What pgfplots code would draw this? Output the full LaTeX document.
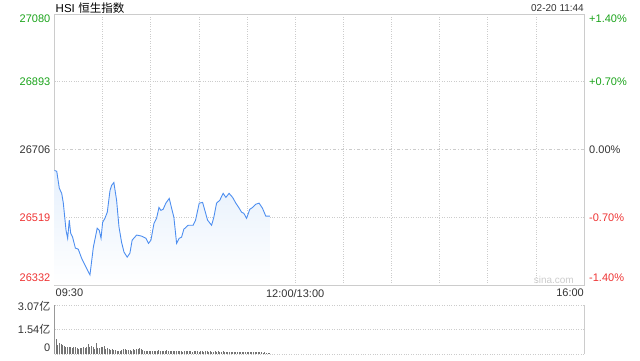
\documentclass[border=0pt]{standalone}
\usepackage{pgfplots}
\pgfplotsset{compat=1.18}
\usepackage{fontspec}
\setmainfont{Liberation Sans}
\newfontfamily\cjk{Noto Sans CJK SC}
\definecolor{upg}{HTML}{1AA31A}
\definecolor{dnr}{HTML}{EE3333}
\definecolor{lineb}{HTML}{4D8EF0}
\definecolor{fillb}{HTML}{E6F0FC}
\definecolor{bord}{HTML}{CCCCCC}
\definecolor{txt}{HTML}{333333}
\begin{document}
\begin{tikzpicture}[x=1bp,y=1bp]
\path[use as bounding box] (0,0) rectangle (640,-360);
\fontsize{11bp}{13bp}\selectfont
% main price chart
\begin{axis}[
  at={(54.5bp,-14bp)}, anchor=north west,
  width=529.5bp, height=271bp, scale only axis,
  xmin=0, xmax=330, ymin=26332.1, ymax=27079.9,
  clip=false,
  scaled y ticks=false, scaled x ticks=false,
  xtick={0,30,...,330}, xticklabels={},
  ytick={26519,26893}, yticklabels={},
  extra y ticks={26706}, extra y tick labels={},
  extra y tick style={grid style={color=bord, dash pattern=on 3pt off 2pt on 1pt off 2pt, line width=0.6pt}},
  major tick length=0pt,
  grid=major,
  grid style={color=bord, dotted, line width=0.6pt},
  axis line style={color=bord, line width=0.8pt},
]
\addplot[draw=none, top color=fillb, bottom color=white] coordinates {
(0,26648) (1.4,26646) (3.0,26599) (4.5,26585) (5.5,26558) (7.2,26483) (8.2,26461) (9.2,26511) (10.1,26475) (11.3,26464)
(13.0,26434) (14.8,26431) (16.9,26406) (19.0,26387) (22.1,26360) (24.2,26436) (26.6,26489) (27.9,26483) (29.0,26461) (30.0,26505)
(31.4,26516) (32.9,26533) (34.6,26593) (35.6,26607) (37.0,26615) (38.7,26566) (40.2,26492) (41.8,26450) (43.3,26423) (45.3,26409)
(47.0,26420) (48.4,26456) (51.2,26470) (54.3,26467) (57.0,26461) (58.6,26447) (60.1,26456) (62.0,26502) (63.6,26516) (65.1,26546)
(66.3,26538) (67.7,26541) (69.4,26558) (71.5,26571) (73.0,26544) (74.4,26519) (76.1,26447) (77.7,26461) (79.2,26464) (80.6,26486)
(83.3,26497) (86.4,26497) (87.9,26511) (90.2,26558) (92.3,26560) (93.7,26538) (95.4,26511) (97.9,26497) (99.3,26519) (101.0,26558)
(103.0,26566) (105.1,26585) (106.8,26574) (108.8,26585) (111.0,26574) (113.0,26558) (115.1,26544) (116.6,26533) (118.0,26530) (119.7,26516)
(121.7,26541) (123.4,26546) (125.5,26555) (127.5,26558) (129.6,26544) (131.7,26522) (134.2,26522)
} \closedcycle;
\addplot[color=lineb, line width=0.9pt, no marks] coordinates {
(0,26648) (1.4,26646) (3.0,26599) (4.5,26585) (5.5,26558) (7.2,26483) (8.2,26461) (9.2,26511) (10.1,26475) (11.3,26464)
(13.0,26434) (14.8,26431) (16.9,26406) (19.0,26387) (22.1,26360) (24.2,26436) (26.6,26489) (27.9,26483) (29.0,26461) (30.0,26505)
(31.4,26516) (32.9,26533) (34.6,26593) (35.6,26607) (37.0,26615) (38.7,26566) (40.2,26492) (41.8,26450) (43.3,26423) (45.3,26409)
(47.0,26420) (48.4,26456) (51.2,26470) (54.3,26467) (57.0,26461) (58.6,26447) (60.1,26456) (62.0,26502) (63.6,26516) (65.1,26546)
(66.3,26538) (67.7,26541) (69.4,26558) (71.5,26571) (73.0,26544) (74.4,26519) (76.1,26447) (77.7,26461) (79.2,26464) (80.6,26486)
(83.3,26497) (86.4,26497) (87.9,26511) (90.2,26558) (92.3,26560) (93.7,26538) (95.4,26511) (97.9,26497) (99.3,26519) (101.0,26558)
(103.0,26566) (105.1,26585) (106.8,26574) (108.8,26585) (111.0,26574) (113.0,26558) (115.1,26544) (116.6,26533) (118.0,26530) (119.7,26516)
(121.7,26541) (123.4,26546) (125.5,26555) (127.5,26558) (129.6,26544) (131.7,26522) (134.2,26522)
};
% left labels
\node[anchor=east, text=upg, inner sep=0pt] at (rel axis cs:0,1) [xshift=-4bp, yshift=-5bp] {27080};
\node[anchor=east, text=upg, inner sep=0pt] at (axis cs:0,26893) [xshift=-4bp] {26893};
\node[anchor=east, text=txt, inner sep=0pt] at (axis cs:0,26706) [xshift=-4bp] {26706};
\node[anchor=east, text=dnr, inner sep=0pt] at (axis cs:0,26519) [xshift=-4bp] {26519};
\node[anchor=east, text=dnr, inner sep=0pt] at (rel axis cs:0,0) [xshift=-4bp, yshift=7bp] {26332};
% right labels
\node[anchor=west, text=upg, inner sep=0pt] at (rel axis cs:1,1) [xshift=5bp, yshift=-5bp] {+1.40\%};
\node[anchor=west, text=upg, inner sep=0pt] at (axis cs:330,26893) [xshift=5bp] {+0.70\%};
\node[anchor=west, text=txt, inner sep=0pt] at (axis cs:330,26706) [xshift=5bp] {0.00\%};
\node[anchor=west, text=dnr, inner sep=0pt] at (axis cs:330,26519) [xshift=5bp] {-0.70\%};
\node[anchor=west, text=dnr, inner sep=0pt] at (rel axis cs:1,0) [xshift=5bp, yshift=7bp] {-1.40\%};
% x labels
\node[anchor=north west, text=txt, inner sep=0pt] at (rel axis cs:0,0) [yshift=-4bp, xshift=1bp] {09:30};
\node[anchor=north, text=txt, inner sep=0pt] at (axis cs:150,26332.1) [yshift=-4bp] {12:00/13:00};
\node[anchor=north east, text=txt, inner sep=0pt] at (rel axis cs:1,0) [yshift=-4bp] {16:00};
% titles
\node[anchor=base west, text=black, inner sep=0pt] (ttl) at (rel axis cs:0,1) [yshift=1.5bp, xshift=1bp] {\fontsize{11.5bp}{13bp}\selectfont HSI};
\node[anchor=base west, text=black, inner sep=0pt] at (ttl.base east) [xshift=3bp] {\fontsize{11.5bp}{13bp}\selectfont\cjk 恒生指数};
\node[anchor=base east, text=txt, inner sep=0pt, font=\fontsize{10bp}{12bp}\selectfont] at (rel axis cs:1,1) [yshift=2.5bp] {02-20 11:44};
\node[anchor=south east, text=bord, inner sep=0pt, font=\fontsize{10bp}{12bp}\selectfont] at (rel axis cs:1,0) [xshift=-10bp, yshift=1bp] {sina.com};
\end{axis}
% volume chart
\begin{axis}[
  at={(54.5bp,-305bp)}, anchor=north west,
  width=529.5bp, height=49bp, scale only axis,
  xmin=0, xmax=330, ymin=0, ymax=3.07,
  clip=false,
  scaled y ticks=false,
  xtick=\empty,
  ytick={0,1.54,3.07}, yticklabels={},
  major tick length=0pt,
  ymajorgrids,
  grid style={color=bord, dotted, line width=0.8pt},
  axis line style={draw=none},
]
\draw[color=gray!80, line width=0.8pt] (rel axis cs:0,0) -- (rel axis cs:0,1);
\draw[color=bord, line width=0.8pt] (rel axis cs:1,0) -- (rel axis cs:1,1);
\addplot[ycomb, no marks, color=gray!90!black, line width=0.8pt] coordinates {
(1,0.92) (2,0.56) (3,0.67) (4,0.63) (5,0.56) (6,0.50) (7,0.42) (8,0.46) (9,0.42) (10,0.46)
(11,0.36) (12,0.42) (13,0.42) (14,0.38) (15,0.33) (16,0.35) (17,0.38) (18,0.42) (19,0.38) (20,0.46)
(21,0.60) (22,0.42) (23,0.50) (24,0.46) (25,0.33) (26,0.67) (27,0.35) (28,0.38) (29,0.42) (30,0.46)
(31,0.50) (32,0.33) (33,0.38) (34,0.29) (35,0.25) (36,0.31) (37,0.27) (38,0.25) (39,0.21) (40,0.19)
(41,0.17) (42,0.25) (43,0.29) (44,0.29) (45,0.25) (46,0.27) (47,0.25) (48,0.21) (49,0.33) (50,0.25)
(51,0.29) (52,0.31) (53,0.35) (54,0.29) (55,0.25) (56,0.21) (57,0.19) (58,0.17) (59,0.17) (60,0.19)
(61,0.17) (62,0.21) (63,0.19) (64,0.17) (65,0.23) (66,0.21) (67,0.19) (68,0.19) (69,0.17) (70,0.23)
(71,0.19) (72,0.21) (73,0.17) (74,0.19) (75,0.21) (76,0.17) (77,0.19) (78,0.21) (79,0.17) (80,0.15)
(81,0.19) (82,0.17) (83,0.17) (84,0.21) (85,0.19) (86,0.15) (87,0.17) (88,0.19) (89,0.17) (90,0.15)
(91,0.19) (92,0.17) (93,0.15) (94,0.19) (95,0.17) (96,0.15) (97,0.17) (98,0.15) (99,0.13) (100,0.17)
(101,0.15) (102,0.17) (103,0.13) (104,0.15) (105,0.17) (106,0.13) (107,0.15) (108,0.13) (109,0.13) (110,0.15)
(111,0.13) (112,0.13) (113,0.15) (114,0.13) (115,0.11) (116,0.13) (117,0.13) (118,0.15) (119,0.11) (120,0.13)
(121,0.13) (122,0.11) (123,0.13) (124,0.11) (125,0.13) (126,0.11) (127,0.11) (128,0.13) (129,0.11) (130,0.09)
(131,0.11) (132,0.09) (133,0.08) (134,0.06)
};
\node[anchor=east, text=txt, inner sep=0pt] at (rel axis cs:0,1) [xshift=-4bp, yshift=-1bp] {3.07{\cjk 亿}};
\node[anchor=east, text=txt, inner sep=0pt] at (axis cs:0,1.54) [xshift=-4bp] {1.54{\cjk 亿}};
\node[anchor=east, text=txt, inner sep=0pt] at (rel axis cs:0,0) [xshift=-4bp, yshift=6bp] {0};
\end{axis}
\end{tikzpicture}
\end{document}
